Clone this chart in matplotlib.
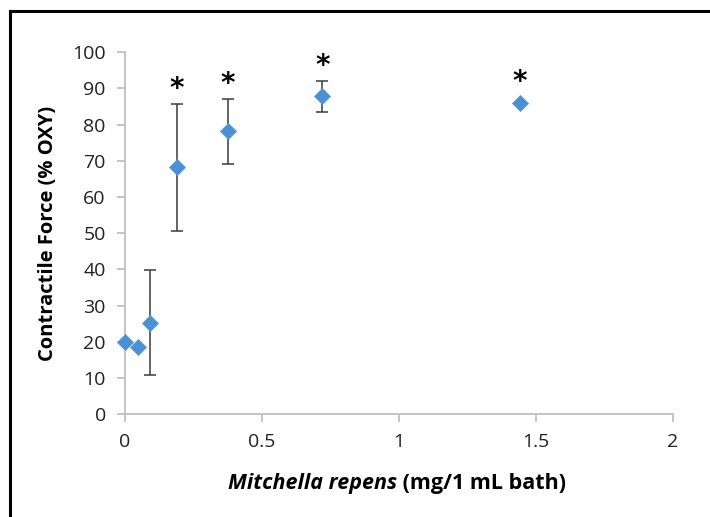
import matplotlib.pyplot as plt
from matplotlib.patches import Rectangle
from matplotlib.offsetbox import TextArea, HPacker, AnchoredOffsetbox

# dose (mg/1 mL bath) and response (% OXY)
dose = [0, 0.047, 0.09, 0.19, 0.375, 0.72, 1.44]
force = [20.0, 18.5, 25.2, 68.2, 78.1, 87.8, 86.0]
err = [0, 0, 14.5, 17.5, 9.0, 4.2, 0]
significant = [False, False, False, True, True, True, True]

y_ticks = list(range(0, 101, 10))
x_ticks = [0, 0.5, 1, 1.5, 2]
x_tick_labels = ["0", "0.5", "1", "1.5", "2"]

plt.rcParams['font.family'] = ['Open Sans', 'DejaVu Sans']

fig = plt.figure(figsize=(7.1, 5.17), dpi=100)
ax = fig.add_axes([0.176, 0.199, 0.772, 0.700])

# frame round the whole chart (only left and top edges are visible)
fig.patches.append(Rectangle((0.014, -0.2), 1.5, 0.979 + 0.2,
                             transform=fig.transFigure, fill=False,
                             edgecolor="black", linewidth=2.2,
                             clip_on=False))

for x, y, e in zip(dose, force, err):
    if e > 0:
        ax.errorbar(x, y, yerr=e, fmt="none", ecolor="#3a3a3a",
                    elinewidth=1.1, capsize=4, capthick=1.1, zorder=2)
ax.plot(dose, force, linestyle="none", marker="D", markersize=8.5,
        markerfacecolor="#4a90d9", markeredgecolor="#5b9bd5",
        markeredgewidth=0.6, zorder=3, clip_on=False)

for x, y, e, s in zip(dose, force, err, significant):
    if s:
        ax.annotate("*", (x, y + e), xytext=(0, 1 if e > 0 else 5),
                    textcoords="offset points", ha="center", va="bottom",
                    fontsize=20, fontweight="bold", family="DejaVu Sans")

ax.set_xlim(0, 2)
ax.set_ylim(0, 100)
ax.set_xticks(x_ticks)
ax.set_xticklabels(x_tick_labels)
ax.set_yticks(y_ticks)

for side in ("top", "right"):
    ax.spines[side].set_visible(False)
for side in ("left", "bottom"):
    ax.spines[side].set_color("#c0c0c0")
    ax.spines[side].set_linewidth(1.3)
ax.tick_params(axis="both", direction="out", length=5.8, width=1.3,
               color="#c0c0c0", labelsize=14, labelcolor="#222222", pad=8)

ax.set_ylabel("Contractile Force (% OXY)", fontsize=14.5, fontweight="bold",
              labelpad=10)

# x label: italic species name + plain units
part1 = TextArea("Mitchella repens", textprops=dict(fontsize=15.5,
                 fontweight="bold", fontstyle="italic"))
part2 = TextArea(" (mg/1 mL bath)", textprops=dict(fontsize=15.5,
                 fontweight="bold"))
box = HPacker(children=[part1, part2], align="baseline", pad=0, sep=0)
anchored = AnchoredOffsetbox(loc="center", child=box, pad=0, frameon=False,
                             bbox_to_anchor=(397 / 710, 1 - 484 / 517),
                             bbox_transform=fig.transFigure, borderpad=0)
fig.add_artist(anchored)

fig.savefig("out.png", dpi=100)
